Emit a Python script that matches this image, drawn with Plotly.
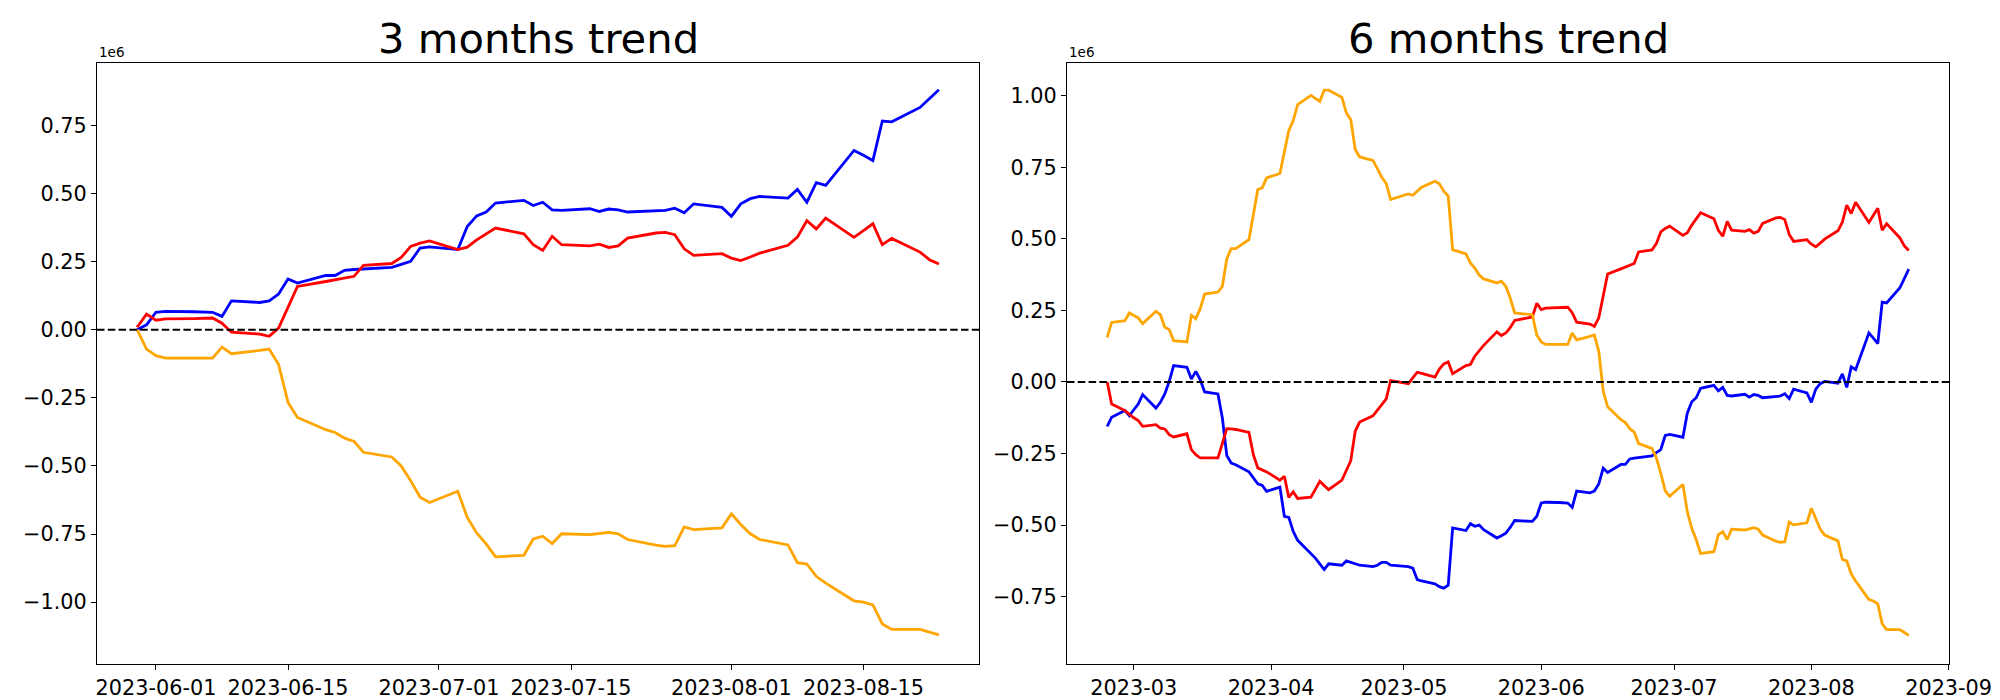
import plotly.graph_objects as go

# ---------------- 3 months trend (values in units of 1e6) ----------------
dates_3m = [
    "2023-05-30", "2023-05-31", "2023-06-01", "2023-06-02",
    "2023-06-05", "2023-06-06", "2023-06-07", "2023-06-08", "2023-06-09",
    "2023-06-12", "2023-06-13", "2023-06-14", "2023-06-15", "2023-06-16",
    "2023-06-19", "2023-06-20", "2023-06-21", "2023-06-22", "2023-06-23",
    "2023-06-26", "2023-06-27", "2023-06-28", "2023-06-29", "2023-06-30",
    "2023-07-03", "2023-07-04", "2023-07-05", "2023-07-06", "2023-07-07",
    "2023-07-10", "2023-07-11", "2023-07-12", "2023-07-13", "2023-07-14",
    "2023-07-17", "2023-07-18", "2023-07-19", "2023-07-20", "2023-07-21",
    "2023-07-24", "2023-07-25", "2023-07-26", "2023-07-27", "2023-07-28",
    "2023-07-31", "2023-08-01", "2023-08-02", "2023-08-03", "2023-08-04",
    "2023-08-07", "2023-08-08", "2023-08-09", "2023-08-10", "2023-08-11",
    "2023-08-14", "2023-08-15", "2023-08-16", "2023-08-17", "2023-08-18",
    "2023-08-21", "2023-08-22", "2023-08-23",
]
blue_3m = [
    0.000, 0.018, 0.064, 0.067,
    0.066, 0.065, 0.064, 0.049, 0.106,
    0.100, 0.106, 0.131, 0.186, 0.171,
    0.199, 0.199, 0.218, 0.221, 0.223,
    0.229, 0.240, 0.251, 0.300, 0.304,
    0.294, 0.379, 0.418, 0.432, 0.465,
    0.475, 0.456, 0.468, 0.440, 0.438,
    0.444, 0.434, 0.443, 0.440, 0.432,
    0.437, 0.438, 0.446, 0.429, 0.462,
    0.449, 0.416, 0.462, 0.481, 0.489,
    0.483, 0.515, 0.468, 0.540, 0.530,
    0.658, 0.640, 0.621, 0.766, 0.763,
    0.816, 0.850, 0.881,
]
red_3m = [
    0.009, 0.057, 0.035, 0.040,
    0.041, 0.042, 0.043, 0.024, -0.009,
    -0.016, -0.024, 0.006, 0.085, 0.159,
    0.177, 0.183, 0.190, 0.196, 0.236,
    0.243, 0.265, 0.306, 0.318, 0.326,
    0.294, 0.303, 0.330, 0.351, 0.373,
    0.352, 0.312, 0.291, 0.343, 0.312,
    0.308, 0.314, 0.302, 0.308, 0.336,
    0.355, 0.357, 0.349, 0.297, 0.273,
    0.279, 0.263, 0.254, 0.267, 0.281,
    0.310, 0.340, 0.400, 0.370, 0.410,
    0.339, 0.364, 0.389, 0.312, 0.335,
    0.285, 0.257, 0.241,
]
orange_3m = [
    0.000, -0.071, -0.095, -0.104,
    -0.104, -0.104, -0.104, -0.064, -0.088,
    -0.076, -0.071, -0.128, -0.267, -0.322,
    -0.367, -0.377, -0.398, -0.410, -0.450,
    -0.467, -0.500, -0.554, -0.615, -0.634,
    -0.593, -0.689, -0.746, -0.786, -0.834,
    -0.828, -0.768, -0.758, -0.785, -0.749,
    -0.752, -0.748, -0.744, -0.749, -0.770,
    -0.791, -0.795, -0.793, -0.724, -0.734,
    -0.727, -0.676, -0.715, -0.749, -0.770,
    -0.790, -0.855, -0.860, -0.905, -0.930,
    -0.995, -1.000, -1.010, -1.080, -1.100,
    -1.100, -1.110, -1.120,
]

# ---------------- 6 months trend (values in units of 1e6) ----------------
dates_6m_early = [
    "2023-02-23", "2023-02-24",
    "2023-02-27", "2023-02-28", "2023-03-01", "2023-03-02", "2023-03-03",
    "2023-03-06", "2023-03-07", "2023-03-08", "2023-03-09", "2023-03-10",
    "2023-03-13", "2023-03-14", "2023-03-15", "2023-03-16", "2023-03-17",
    "2023-03-20", "2023-03-21", "2023-03-22", "2023-03-23", "2023-03-24",
    "2023-03-27", "2023-03-28", "2023-03-29", "2023-03-30", "2023-03-31",
    "2023-04-03", "2023-04-04", "2023-04-05", "2023-04-06", "2023-04-07",
    "2023-04-10", "2023-04-11", "2023-04-12", "2023-04-13", "2023-04-14",
    "2023-04-17", "2023-04-18", "2023-04-19", "2023-04-20", "2023-04-21",
    "2023-04-24", "2023-04-25", "2023-04-26", "2023-04-27", "2023-04-28",
    "2023-05-01", "2023-05-02", "2023-05-03", "2023-05-04", "2023-05-05",
    "2023-05-08", "2023-05-09", "2023-05-10", "2023-05-11", "2023-05-12",
    "2023-05-15", "2023-05-16", "2023-05-17", "2023-05-18", "2023-05-19",
    "2023-05-22", "2023-05-23", "2023-05-24", "2023-05-25", "2023-05-26",
]
dates_6m = dates_6m_early + dates_3m

blue_6m = [
    -0.155, -0.123,
    -0.100, -0.118, -0.097, -0.077, -0.044,
    -0.091, -0.071, -0.042, 0.002, 0.057,
    0.051, 0.010, 0.037, 0.008, -0.035,
    -0.042, -0.126, -0.257, -0.283, -0.289,
    -0.314, -0.335, -0.356, -0.361, -0.382,
    -0.367, -0.469, -0.473, -0.522, -0.553,
    -0.600, -0.615, -0.635, -0.655, -0.635,
    -0.640, -0.625, -0.630, -0.635, -0.640,
    -0.645, -0.640, -0.630, -0.630, -0.640,
    -0.645, -0.645, -0.650, -0.690, -0.695,
    -0.705, -0.715, -0.720, -0.710, -0.510,
    -0.519, -0.495, -0.504, -0.500, -0.516,
    -0.545, -0.537, -0.528, -0.508, -0.484,
    # from 2023-05-30
    -0.487, -0.469, -0.423, -0.420,
    -0.421, -0.422, -0.423, -0.438, -0.381,
    -0.387, -0.381, -0.356, -0.301, -0.316,
    -0.288, -0.288, -0.269, -0.266, -0.264,
    -0.258, -0.247, -0.236, -0.187, -0.183,
    -0.193, -0.108, -0.069, -0.055, -0.022,
    -0.012, -0.031, -0.019, -0.047, -0.049,
    -0.043, -0.053, -0.044, -0.047, -0.055,
    -0.050, -0.049, -0.041, -0.058, -0.025,
    -0.038, -0.071, -0.025, -0.006, 0.002,
    -0.004, 0.028, -0.019, 0.053, 0.043,
    0.171, 0.153, 0.134, 0.279, 0.276,
    0.329, 0.363, 0.394,
]
red_6m = [
    0.000, -0.077,
    -0.100, -0.114, -0.125, -0.135, -0.155,
    -0.149, -0.161, -0.164, -0.184, -0.192,
    -0.181, -0.236, -0.254, -0.265, -0.265,
    -0.265, -0.215, -0.163, -0.164, -0.166,
    -0.176, -0.254, -0.300, -0.306, -0.314,
    -0.343, -0.329, -0.403, -0.384, -0.407,
    -0.402, -0.375, -0.347, -0.362, -0.376,
    -0.343, -0.310, -0.275, -0.172, -0.140,
    -0.118, -0.100, -0.079, -0.059, 0.005,
    -0.003, -0.006, 0.014, 0.034, 0.030,
    0.017, 0.045, 0.063, 0.070, 0.029,
    0.057, 0.061, 0.090, 0.110, 0.128,
    0.175, 0.162, 0.171, 0.190, 0.215,
    # from 2023-05-30
    0.227, 0.275, 0.253, 0.258,
    0.259, 0.260, 0.261, 0.242, 0.209,
    0.202, 0.194, 0.224, 0.303, 0.377,
    0.395, 0.401, 0.408, 0.414, 0.454,
    0.461, 0.483, 0.524, 0.536, 0.544,
    0.512, 0.521, 0.548, 0.569, 0.591,
    0.570, 0.530, 0.509, 0.561, 0.530,
    0.526, 0.532, 0.520, 0.526, 0.554,
    0.573, 0.575, 0.567, 0.515, 0.491,
    0.497, 0.481, 0.472, 0.485, 0.499,
    0.528, 0.558, 0.618, 0.588, 0.628,
    0.557, 0.582, 0.607, 0.530, 0.553,
    0.503, 0.475, 0.459,
]
orange_6m = [
    0.156, 0.208,
    0.214, 0.241, 0.232, 0.224, 0.204,
    0.247, 0.235, 0.191, 0.183, 0.144,
    0.140, 0.233, 0.221, 0.256, 0.307,
    0.314, 0.334, 0.430, 0.466, 0.466,
    0.497, 0.585, 0.672, 0.678, 0.713,
    0.728, 0.809, 0.878, 0.913, 0.969,
    1.001, 0.990, 0.980, 1.019, 1.019,
    0.994, 0.940, 0.916, 0.812, 0.786,
    0.774, 0.745, 0.715, 0.693, 0.637,
    0.652, 0.657, 0.652, 0.666, 0.680,
    0.701, 0.692, 0.666, 0.649, 0.462,
    0.447, 0.416, 0.398, 0.373, 0.360,
    0.346, 0.352, 0.334, 0.293, 0.241,
    # from 2023-05-30
    0.235, 0.164, 0.140, 0.131,
    0.131, 0.131, 0.131, 0.171, 0.147,
    0.159, 0.164, 0.107, -0.032, -0.087,
    -0.132, -0.142, -0.163, -0.175, -0.215,
    -0.232, -0.265, -0.319, -0.380, -0.399,
    -0.358, -0.454, -0.511, -0.551, -0.599,
    -0.593, -0.533, -0.523, -0.550, -0.514,
    -0.517, -0.513, -0.509, -0.514, -0.535,
    -0.556, -0.560, -0.558, -0.489, -0.499,
    -0.492, -0.441, -0.480, -0.514, -0.535,
    -0.555, -0.620, -0.625, -0.670, -0.695,
    -0.760, -0.765, -0.775, -0.845, -0.865,
    -0.865, -0.875, -0.885,
]

# ---------------- ticks ----------------
x_ticks_3m = ["2023-06-01", "2023-06-15", "2023-07-01", "2023-07-15", "2023-08-01", "2023-08-15"]
x_ticks_6m = ["2023-03-01", "2023-04-01", "2023-05-01", "2023-06-01", "2023-07-01", "2023-08-01", "2023-09-01"]
x_labels_6m = ["2023-03", "2023-04", "2023-05", "2023-06", "2023-07", "2023-08", "2023-09"]
y_ticks_3m = [-1.0, -0.75, -0.5, -0.25, 0.0, 0.25, 0.5, 0.75]
y_ticks_6m = [-0.75, -0.5, -0.25, 0.0, 0.25, 0.5, 0.75, 1.0]


def fmt(v):
    s = f"{abs(v):.2f}"
    return ("\u2212" + s) if v < 0 else s


FONT = "DejaVu Sans"
W, H = 2000, 700
L1, R1 = 89, 971
L2, R2 = 1059, 1941
TOP, BOT = 55, 656

fig = go.Figure()
for xs, ys, col, ax in [
    (dates_3m, blue_3m, "#0000FF", 1), (dates_3m, red_3m, "#FF0000", 1), (dates_3m, orange_3m, "#FFA500", 1),
    (dates_6m, blue_6m, "#0000FF", 2), (dates_6m, red_6m, "#FF0000", 2), (dates_6m, orange_6m, "#FFA500", 2),
]:
    fig.add_trace(go.Scatter(
        x=xs, y=ys, mode="lines",
        line=dict(color=col, width=2.8),
        xaxis="x" if ax == 1 else "x2", yaxis="y" if ax == 1 else "y2",
        showlegend=False, hoverinfo="x+y",
    ))

axis_common = dict(
    showline=True, mirror=True, linecolor="black", linewidth=1.1,
    ticks="outside", ticklen=5, tickwidth=1.1, tickcolor="black",
    showgrid=False, zeroline=False,
    tickfont=dict(family=FONT, size=20.8, color="black"),
    automargin=False,
)
ydom = [1 - BOT / H, 1 - TOP / H]

fig.update_layout(
    width=W, height=H,
    margin=dict(l=0, r=0, t=0, b=0),
    paper_bgcolor="white", plot_bgcolor="white",
    font=dict(family=FONT, color="black"),
    xaxis=dict(domain=[L1 / W, R1 / W], anchor="y", type="date",
               range=["2023-05-25 18:00", "2023-08-27 06:00"],
               tickvals=x_ticks_3m, ticktext=x_ticks_3m, **axis_common),
    yaxis=dict(domain=ydom, anchor="x", range=[-1.227, 0.979],
               tickvals=y_ticks_3m, ticktext=[fmt(v) for v in y_ticks_3m], **axis_common),
    xaxis2=dict(domain=[L2 / W, R2 / W], anchor="y2", type="date",
                range=["2023-02-13 22:00", "2023-09-01 02:00"],
                tickvals=x_ticks_6m, ticktext=x_labels_6m, **axis_common),
    yaxis2=dict(domain=ydom, anchor="x2", range=[-0.985, 1.114],
                tickvals=y_ticks_6m, ticktext=[fmt(v) for v in y_ticks_6m], **axis_common),
    shapes=[
        dict(type="line", xref="x domain", x0=0, x1=1, yref="y", y0=0, y1=0,
             line=dict(color="black", width=2.1, dash="7.5px,3.3px"), layer="above"),
        dict(type="line", xref="x2 domain", x0=0, x1=1, yref="y2", y0=0, y1=0,
             line=dict(color="black", width=2.1, dash="7.5px,3.3px"), layer="above"),
    ],
    annotations=[
        dict(text="3 months trend", xref="paper", yref="paper",
             x=(L1 + R1) / 2 / W, y=1 - 57 / H, xanchor="center", yanchor="bottom",
             showarrow=False, font=dict(family=FONT, size=41.7, color="black")),
        dict(text="6 months trend", xref="paper", yref="paper",
             x=(L2 + R2) / 2 / W, y=1 - 57 / H, xanchor="center", yanchor="bottom",
             showarrow=False, font=dict(family=FONT, size=41.7, color="black")),
        dict(text="1e6", xref="paper", yref="paper",
             x=L1 / W, y=1 - 54 / H, xanchor="left", yanchor="bottom",
             showarrow=False, font=dict(family=FONT, size=13.5, color="black")),
        dict(text="1e6", xref="paper", yref="paper",
             x=L2 / W, y=1 - 54 / H, xanchor="left", yanchor="bottom",
             showarrow=False, font=dict(family=FONT, size=13.5, color="black")),
    ],
)

fig.write_html("out.html")
